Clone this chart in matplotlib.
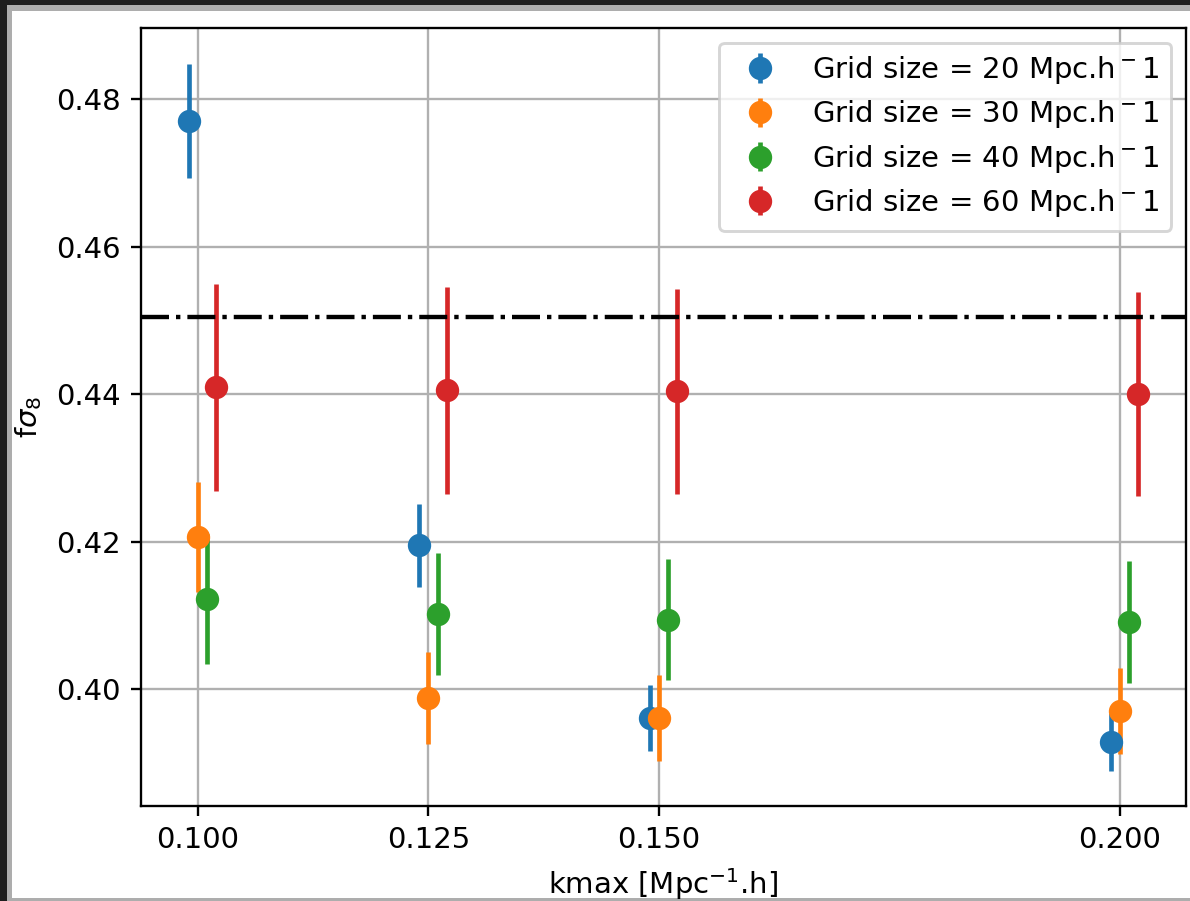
"""
f sigma_8 vs kmax for several grid sizes, drawn as a screenshot-style figure.
"""
import matplotlib
matplotlib.use("Agg")
import matplotlib.pyplot as plt  # noqa: E402
from matplotlib.patches import Rectangle  # noqa: E402

W, H, DPI = 1190, 901, 210

kmax = [0.100, 0.125, 0.150, 0.200]
grid_sizes = [20, 30, 40, 60]

fs8_20 = [0.4770, 0.4195, 0.3961, 0.3928]
err_20 = [0.0077, 0.0056, 0.0045, 0.0039]
fs8_30 = [0.4206, 0.3988, 0.3961, 0.3970]
err_30 = [0.0075, 0.0062, 0.0058, 0.0058]
fs8_40 = [0.4122, 0.4102, 0.4094, 0.4091]
err_40 = [0.0088, 0.0083, 0.0082, 0.0083]
fs8_60 = [0.4409, 0.4405, 0.4404, 0.4400]
err_60 = [0.0140, 0.0140, 0.0139, 0.0138]

fs8_ref = 0.4505

series = [(fs8_20, err_20), (fs8_30, err_30), (fs8_40, err_40), (fs8_60, err_60)]
dodge = [-0.001, 0.0, 0.001, 0.002]
colors = ["#1f77b4", "#ff7f0e", "#2ca02c", "#d62728"]

fig = plt.figure(figsize=(W / DPI, H / DPI), dpi=DPI)
fig.patch.set_facecolor("#1e1e1e")
# window frame: grey edge, then white canvas
fig.add_artist(Rectangle((7 / W, 0), 1, (H - 5) / H, transform=fig.transFigure,
                         facecolor="#adadad", edgecolor="none", zorder=-10))
fig.add_artist(Rectangle((11.5 / W, 3 / H), 1, (898 - 10.5) / H, transform=fig.transFigure,
                         facecolor="white", edgecolor="none", zorder=-9))

ax = fig.add_axes([141 / W, (H - 806) / H, (1186 - 141) / W, (806 - 28) / H])

for (vals, errs), g, dx, c in zip(series, grid_sizes, dodge, colors):
    xs = [k + dx for k in kmax]
    ax.errorbar(xs, vals, yerr=errs, fmt="o", ms=7, elinewidth=1.6, color=c,
                label=rf"Grid size = {g} Mpc.h$^-1$")

ax.axhline(fs8_ref, color="k", ls="-.", lw=1.5)

ax.set_xticks(kmax)
ax.set_xticklabels([f"{k:.3f}" for k in kmax])
ax.set_xlim(0.09382, 0.20716)
ax.set_ylim(0.38414, 0.48963)
ax.set_yticks([0.40, 0.42, 0.44, 0.46, 0.48])
ax.grid(True)
ax.set_xlabel(r"kmax [Mpc$^{-1}$.h]")
ax.set_ylabel(r"f$\sigma_8$")
ax.legend(loc="upper right", labelspacing=0.42)

fig.savefig("out.png", dpi=DPI, facecolor=fig.get_facecolor())
